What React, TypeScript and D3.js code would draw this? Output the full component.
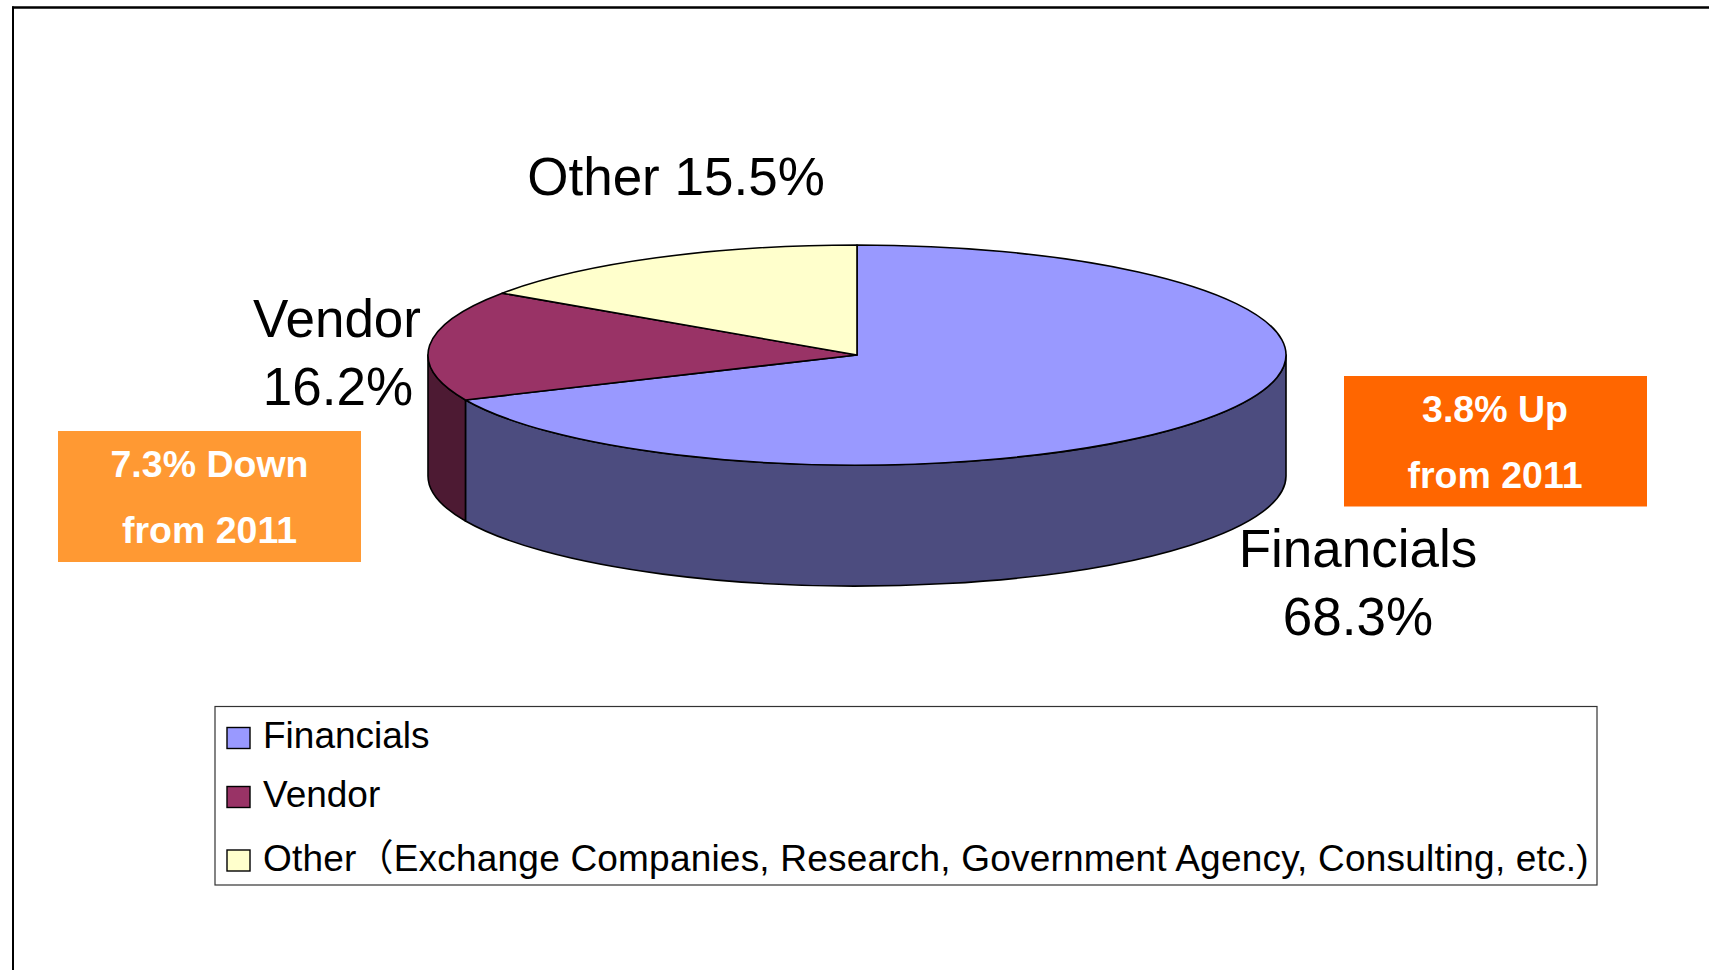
import React from "react";
import * as d3 from "d3";

const categories = ["Financials", "Vendor", "Other"];
const shares = [68.3, 16.2, 15.5];
const legendLabels = [
  "Financials",
  "Vendor",
  "Other（Exchange Companies, Research, Government Agency, Consulting, etc.)",
];
const topColors = ["#9999FF", "#993366", "#FFFFCC"];
const sideColors = ["#4C4C7F", "#4D1A33", "#80806A"];
const downCallout = ["7.3% Down", "from 2011"];
const upCallout = ["3.8% Up", "from 2011"];

const W = 1709;
const H = 970;
const FONT = "'Liberation Sans', Arial, 'Noto Sans CJK SC', sans-serif";

export default function App() {
  const cx = 857, cy = 355, rx = 429, ry = 110, depth = 121;
  const pie = d3.pie<number>().sort(null).value((d) => d)(shares);

  const pt = (a: number, dy = 0): [number, number] => [
    cx + rx * Math.sin(a),
    cy - ry * Math.cos(a) + dy,
  ];
  const f = (p: [number, number]) => `${p[0].toFixed(2)},${p[1].toFixed(2)}`;

  const topPath = (a0: number, a1: number) =>
    `M${cx},${cy} L${f(pt(a0))} A${rx},${ry} 0 ${a1 - a0 > Math.PI ? 1 : 0} 1 ${f(pt(a1))} Z`;

  const sidePath = (a0: number, a1: number) => {
    const s = Math.max(a0, Math.PI / 2);
    const e = Math.min(a1, (3 * Math.PI) / 2);
    if (s >= e) return null;
    return `M${f(pt(s))} A${rx},${ry} 0 0 1 ${f(pt(e))} L${f(pt(e, depth))} A${rx},${ry} 0 0 0 ${f(pt(s, depth))} Z`;
  };

  const labelText = (i: number) => `${shares[i].toFixed(1)}%`;

  return (
    <svg
      width={W}
      height={H}
      style={{ position: "absolute", left: 0, top: 0, background: "#fff" }}
      fontFamily={FONT}
    >
      <rect x={0} y={0} width={W} height={H} fill="#fff" />
      {/* frame */}
      <line x1={12} y1={7.5} x2={W} y2={7.5} stroke="#000" strokeWidth={2.6} />
      <line x1={13} y1={6.5} x2={13} y2={H} stroke="#000" strokeWidth={2} />

      {/* side faces */}
      {pie.map((d, i) => {
        const p = sidePath(d.startAngle, d.endAngle);
        return p ? (
          <path key={"s" + i} d={p} fill={sideColors[i]} stroke="#000" strokeWidth={1.6} strokeLinejoin="round" />
        ) : null;
      })}
      {/* top faces */}
      {pie.map((d, i) => (
        <path key={"t" + i} d={topPath(d.startAngle, d.endAngle)} fill={topColors[i]} stroke="#000" strokeWidth={1.6} strokeLinejoin="round" />
      ))}

      {/* data labels */}
      <g fontSize={53} fill="#000" textAnchor="middle">
        <text x={676} y={195}>{`${categories[2]} ${labelText(2)}`}</text>
        <text x={337} y={337}>{categories[1]}</text>
        <text x={338} y={405}>{labelText(1)}</text>
        <text x={1358} y={567}>{categories[0]}</text>
        <text x={1358} y={635}>{labelText(0)}</text>
      </g>

      {/* callouts */}
      <rect x={58} y={431} width={303} height={131} fill="#FF9933" />
      <g fontSize={37.5} fontWeight="bold" fill="#fff" textAnchor="middle">
        <text x={209.5} y={477}>{downCallout[0]}</text>
        <text x={209.5} y={543}>{downCallout[1]}</text>
      </g>
      <rect x={1344} y={376} width={303} height={130.5} fill="#FF6600" />
      <g fontSize={37.5} fontWeight="bold" fill="#fff" textAnchor="middle">
        <text x={1495} y={422}>{upCallout[0]}</text>
        <text x={1495} y={488}>{upCallout[1]}</text>
      </g>

      {/* legend */}
      <rect x={215} y={706.5} width={1382} height={178.5} fill="#fff" stroke="#333" strokeWidth={1.2} />
      {legendLabels.map((l, i) => {
        const base = [748, 807, 870.5][i];
        return (
          <g key={"l" + i}>
            <rect x={227} y={base - 20.5} width={23} height={21} fill={topColors[i]} stroke="#000" strokeWidth={1.4} />
            <text
              x={263}
              y={base}
              fontSize={37}
              fill="#000"
              style={i === 2 ? { letterSpacing: "0.2px" } : undefined}
            >
              {l}
            </text>
          </g>
        );
      })}
    </svg>
  );
}
